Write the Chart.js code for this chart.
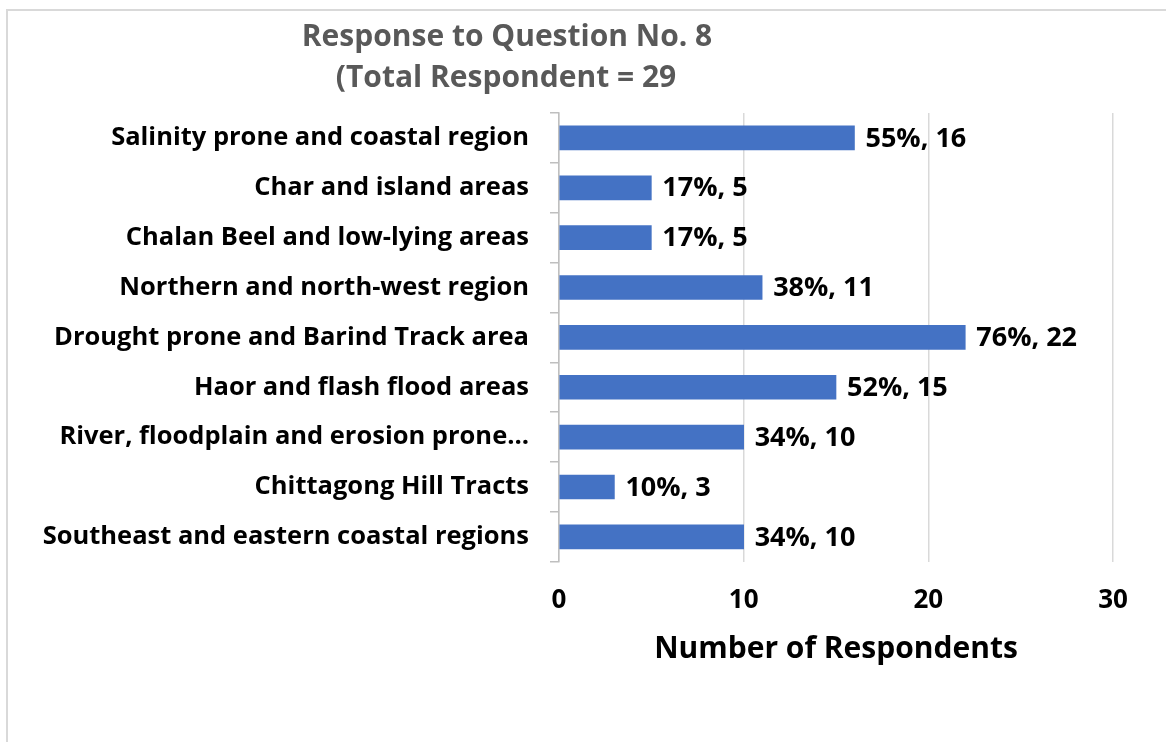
<!DOCTYPE html>
<html>
<head>
<meta charset="utf-8">
<script src="https://cdn.jsdelivr.net/npm/chart.js@4"></script>
<style>
  html, body { margin: 0; padding: 0; background: #fff; }
  #wrap { position: relative; width: 1166px; height: 742px; overflow: hidden; }
  #frame { position: absolute; left: 6px; top: 9px; width: 1200px; height: 800px;
           border-left: 2px solid #d9d9d9; border-top: 2px solid #d9d9d9; }
  canvas { position: absolute; left: 0; top: 0; }
</style>
</head>
<body>
<div id="wrap">
  <div id="frame"></div>
  <canvas id="chart" width="1166" height="742"></canvas>
</div>
<script>
const regions = [
  'Salinity prone and coastal region',
  'Char and island areas',
  'Chalan Beel and low-lying areas',
  'Northern and north-west region',
  'Drought prone and Barind Track area',
  'Haor and flash flood areas',
  'River, floodplain and erosion prone…',
  'Chittagong Hill Tracts',
  'Southeast and eastern coastal regions'
];
const respondents = [16, 5, 5, 11, 22, 15, 10, 3, 10];
const percents = [55, 17, 17, 38, 76, 52, 34, 10, 34];
const xTicks = [0, 10, 20, 30];
const titleLines = ['Response to Question No. 8', '(Total Respondent = 29'];

const FONT = '"Open Sans", Lato, sans-serif';

// percent + count written after the end of each bar
const barLabels = {
  id: 'barLabels',
  afterDatasetsDraw(chart) {
    const ctx = chart.ctx;
    const meta = chart.getDatasetMeta(0);
    ctx.save();
    ctx.font = 'bold 27px ' + FONT;
    ctx.fillStyle = '#000';
    ctx.textBaseline = 'middle';
    ctx.textAlign = 'left';
    meta.data.forEach((bar, i) => {
      ctx.fillText(percents[i] + '%, ' + respondents[i], bar.x + 11, bar.y + 1);
    });
    ctx.restore();
  }
};

// two-line title, centred left of the plot like the original
const chartTitle = {
  id: 'chartTitle',
  afterDraw(chart) {
    const ctx = chart.ctx;
    ctx.save();
    ctx.font = 'bold 30px ' + FONT;
    ctx.fillStyle = '#595959';
    ctx.textAlign = 'center';
    ctx.textBaseline = 'middle';
    ctx.fillText(titleLines[0], 507, 37);
    ctx.fillText(titleLines[1], 506, 78);
    ctx.restore();
  }
};

new Chart(document.getElementById('chart'), {
  type: 'bar',
  data: {
    labels: regions,
    datasets: [{
      data: respondents,
      backgroundColor: '#4472C4',
      barThickness: 24
    }]
  },
  options: {
    indexAxis: 'y',
    responsive: false,
    animation: false,
    layout: { padding: { left: 30, right: 53, top: 113, bottom: 75 } },
    plugins: { legend: { display: false }, tooltip: { enabled: false }, title: { display: false } },
    scales: {
      x: {
        min: 0, max: 30,
        afterBuildTicks: s => { s.ticks = xTicks.map(v => ({ value: v })); },
        grid: { color: '#d9d9d9', lineWidth: 1.5, drawTicks: false },
        border: { display: false },
        ticks: { color: '#000', padding: 23, font: { family: FONT, size: 26, weight: 'bold' } },
        title: {
          display: true, text: 'Number of Respondents', color: '#000',
          font: { family: FONT, size: 30, weight: 'bold' },
          padding: { top: -8, bottom: 0 }
        }
      },
      y: {
        afterFit: s => { s.width = 529; },
        grid: { drawOnChartArea: false, drawTicks: true, tickLength: 9, offset: true, color: '#bfbfbf', lineWidth: 1.5 },
        border: { display: true, color: '#bfbfbf', width: 1.5 },
        ticks: { color: '#000', padding: 21, font: { family: FONT, size: 25.5, weight: 'bold' } }
      }
    }
  },
  plugins: [barLabels, chartTitle]
});
</script>
</body>
</html>
